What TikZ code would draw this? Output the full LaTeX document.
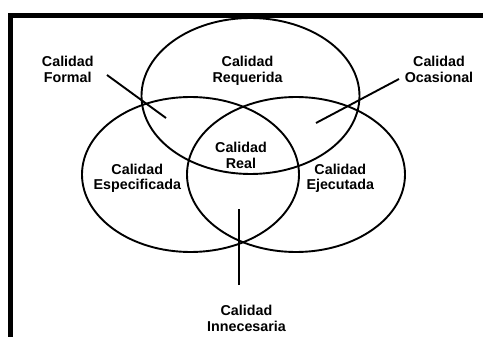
\documentclass[tikz,border=0pt]{standalone}
\usepackage{fontspec}
\setmainfont{Liberation Sans}
\begin{document}
\begin{tikzpicture}[x=1pt,y=-1pt,
  set/.style={line width=1.9pt},
  lead/.style={line width=1.9pt},
  frameline/.style={line width=4.5pt},
  lbl/.style={inner sep=0pt,anchor=north,align=center,font=\bfseries\fontsize{14.3}{15.6}\selectfont}]
\useasboundingbox (0,0) rectangle (483,337);
% frame
\coordinate (fa) at (10.5,337);
\coordinate (fb) at (10.5,15.5);
\coordinate (fc) at (483,15.5);
\draw[frameline] (fa) -- (fb) -- (fc);
% sets
\draw[set] (250.5,96) ellipse [x radius=109, y radius=78];
\draw[set] (190.5,174.5) ellipse [x radius=108.5, y radius=77.5];
\draw[set] (296,174.5) ellipse [x radius=109, y radius=77.5];
% labels
\node[lbl] (formal) at (67.8,56.3) {Calidad\\Formal};
\node[lbl] (requerida) at (247.5,56.3) {Calidad\\Requerida};
\node[lbl] (ocasional) at (439,56.3) {Calidad\\Ocasional};
\node[lbl] (real) at (241,141.9) {Calidad\\Real};
\node[lbl] (especificada) at (137.3,163.6) {Calidad\\Especificada};
\node[lbl] (ejecutada) at (340.3,163.6) {Calidad\\Ejecutada};
\node[lbl] (innecesaria) at (246.5,305.3) {Calidad\\Innecesaria};
% leaders
\coordinate (f1) at (107,75);
\coordinate (f2) at (166,118);
\coordinate (o1) at (399,79);
\coordinate (o2) at (316,123);
\coordinate (i1) at (239,285);
\coordinate (i2) at (239,209);
\draw[lead] (f1) -- (f2);
\draw[lead] (o1) -- (o2);
\draw[lead] (i1) -- (i2);
\end{tikzpicture}
\end{document}
